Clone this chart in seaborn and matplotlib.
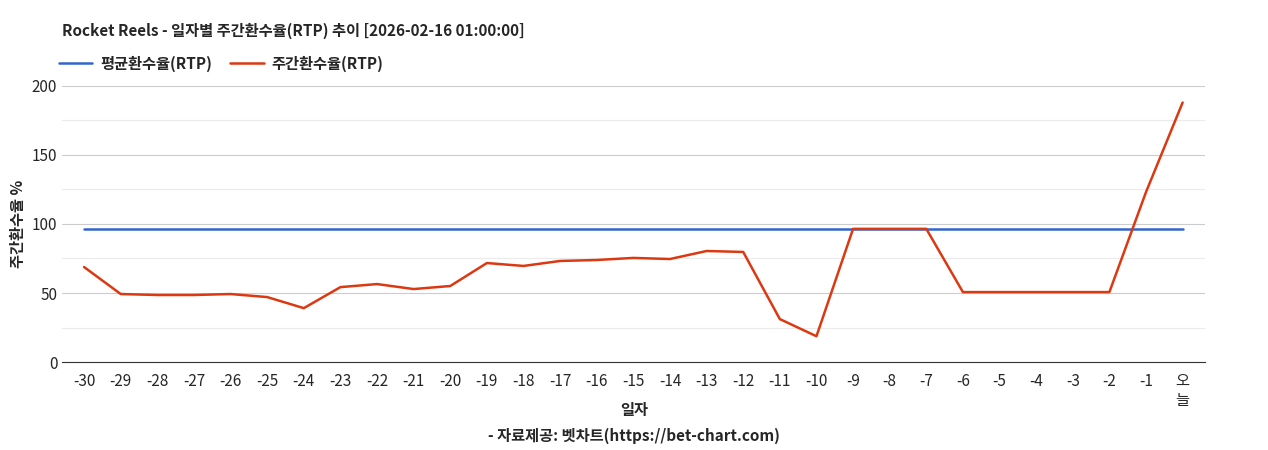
import numpy as np
import pandas as pd
import seaborn as sns
import matplotlib.pyplot as plt

days = [str(d) for d in range(-30, 0)] + ["오\n늘"]
weekly_rtp = [68.8, 49.3, 48.6, 48.6, 49.3, 47.1, 39.1, 54.3, 56.5, 52.9, 55.1,
              71.7, 69.6, 73.2, 73.9, 75.4, 74.6, 80.4, 79.7, 31.2, 18.8,
              96.4, 96.4, 96.4, 50.7, 50.7, 50.7, 50.7, 50.7, 123.0, 187.7]
avg_rtp = 96.4

sns.set_style("white")
plt.rcParams['font.family'] = ['Noto Sans CJK KR', 'DejaVu Sans']

df = pd.DataFrame({"x": np.arange(len(days)), "weekly": weekly_rtp, "avg": [avg_rtp] * len(days)})

fig, ax = plt.subplots(figsize=(12.68, 4.5), dpi=100)
fig.subplots_adjust(left=0.049, right=0.95, top=0.81, bottom=0.195)

for y in [25, 75, 125, 175]:
    ax.axhline(y, color="#ebebeb", lw=0.8, zorder=0)
for y in [50, 100, 150, 200]:
    ax.axhline(y, color="#cccccc", lw=0.8, zorder=0)

sns.lineplot(data=df, x="x", y="avg", ax=ax, color="#3366cc", lw=1.8, label="평균환수율(RTP)")
sns.lineplot(data=df, x="x", y="weekly", ax=ax, color="#dc3912", lw=1.8, label="주간환수율(RTP)")

ax.set_xlim(-0.6, len(days) - 0.4)
ax.set_ylim(0, 200)
ax.set_yticks([0, 50, 100, 150, 200])
ax.set_xticks(df["x"])
ax.set_xticklabels(days)
ax.tick_params(axis="both", labelsize=11, length=0)
ax.tick_params(axis="x", length=4, color="#333333")
for s in ["top", "right", "left"]:
    ax.spines[s].set_visible(False)
ax.spines["bottom"].set_color("#333333")

ax.set_xlabel("")
fig.text(0.5, 0.078, "일자", ha="center", fontsize=11, fontweight="bold")
ax.set_ylabel("주간환수율 %", fontsize=11, fontweight="bold")

ax.legend(loc="lower left", bbox_to_anchor=(-0.003, 1.05), ncol=2, frameon=False,
          prop={"weight": "bold", "size": 11}, handlelength=2.2, handletextpad=0.5,
          columnspacing=1.2, borderaxespad=0, borderpad=0)
fig.text(0.049, 0.92, "Rocket Reels - 일자별 주간환수율(RTP) 추이 [2026-02-16 01:00:00]",
         fontsize=11, fontweight="bold")
fig.text(0.5, 0.02, "- 자료제공: 벳차트(https://bet-chart.com)", ha="center", fontsize=11, fontweight="bold")

fig.savefig("out.png", dpi=100)
